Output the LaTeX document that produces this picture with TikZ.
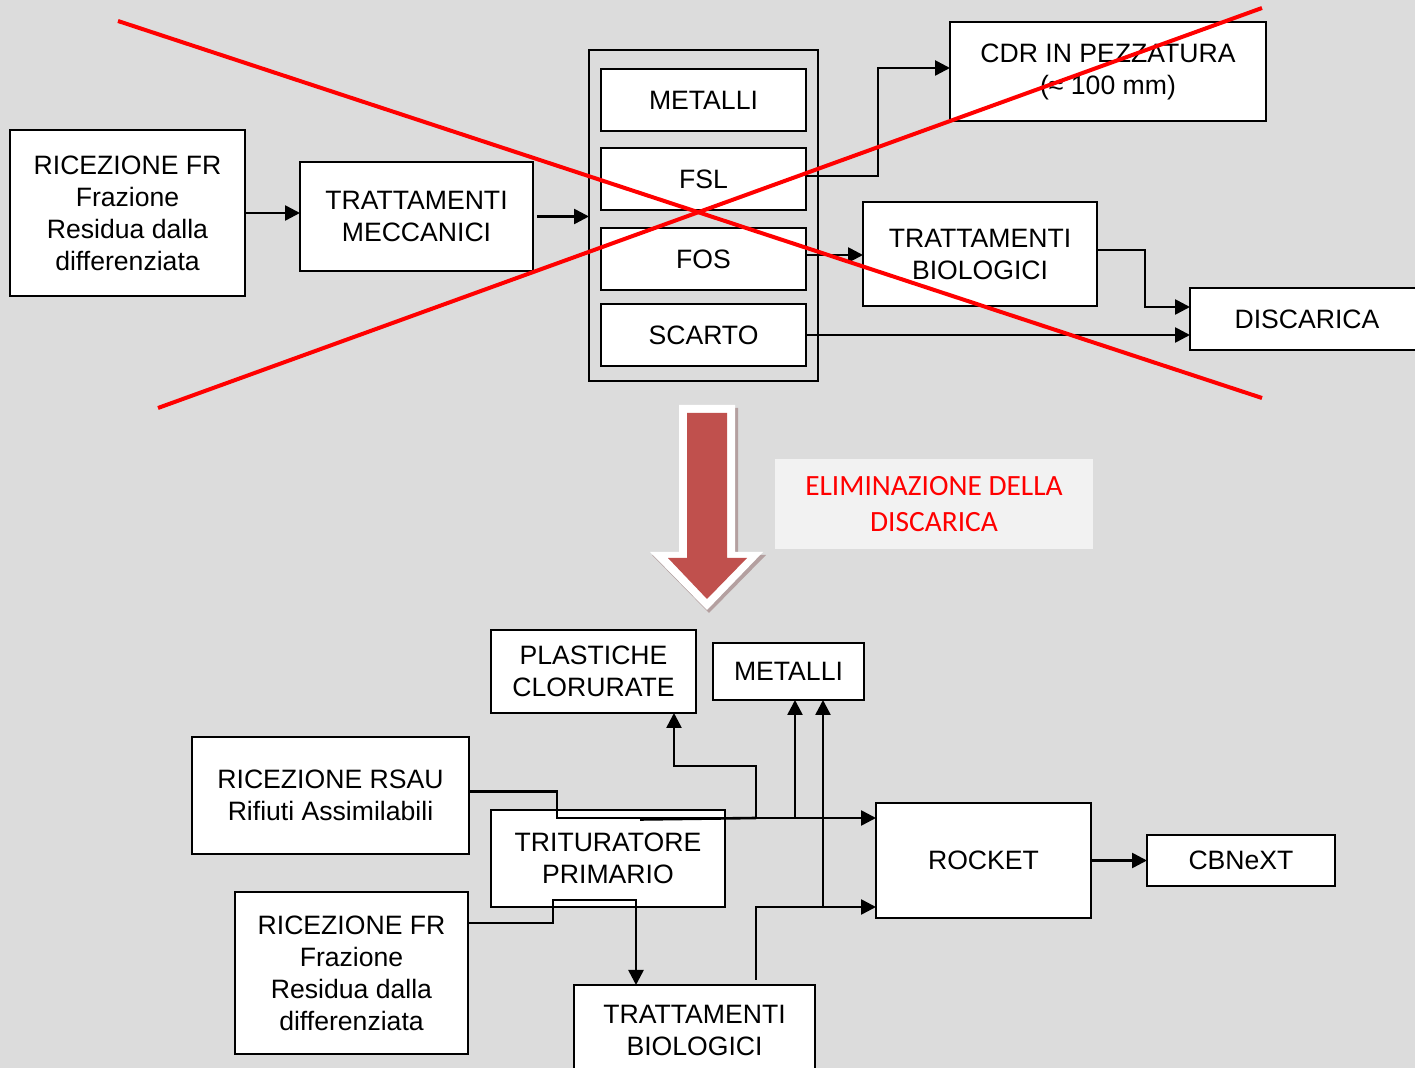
\documentclass[tikz,border=0pt]{standalone}
\usepackage{fontspec}
\setmainfont{Liberation Sans}
\newfontfamily\calibfont{Carlito}
\usetikzlibrary{arrows.meta}
\definecolor{bg}{RGB}{220,220,220}
\definecolor{arrred}{RGB}{192,80,77}
\definecolor{elimbg}{RGB}{242,242,242}
\definecolor{shadowc}{RGB}{180,160,160}
\begin{document}
\begin{tikzpicture}[x=0.5pt,y=-0.5pt,
  box/.style={draw=black,fill=white,line width=1pt,inner sep=0pt,outer sep=0pt,align=center,font=\fontsize{13.3}{16}\selectfont},
  conn/.style={line width=1.3pt,-{Triangle[length=7.5pt,width=7.5pt]}},
  plainline/.style={line width=1.3pt},
  cross/.style={red,line width=2pt}]
\fill[bg] (0,0) rectangle (1415,1068);
\clip (0,0) rectangle (1415,1068);

% ---------- top diagram ----------
\node[box,minimum width=117.5pt,minimum height=83pt] (ric1) at (127.5,213) {RICEZIONE FR\\Frazione\\Residua dalla\\differenziata};
\node[box,minimum width=116.5pt,minimum height=54.5pt] (tm) at (416.5,216.5) {TRATTAMENTI\\MECCANICI};
\node[box,fill=none,minimum width=114.5pt,minimum height=165.5pt] (cont) at (703.5,215.5) {};
\node[box,minimum width=102.5pt,minimum height=31pt] (met1) at (703.5,100) {METALLI};
\node[box,minimum width=102.5pt,minimum height=31pt] (fsl) at (703.5,179) {FSL};
\node[box,minimum width=102.5pt,minimum height=31pt] (fos) at (703.5,259) {FOS};
\node[box,minimum width=102.5pt,minimum height=31pt] (scarto) at (703.5,335) {SCARTO};
\node[box,minimum width=158pt,minimum height=49.5pt] (cdr) at (1108,71.5) {CDR IN PEZZATURA\\(≈ 100 mm)};
\node[box,minimum width=117pt,minimum height=52pt] (tb1) at (980,254) {TRATTAMENTI\\BIOLOGICI};
\node[box,minimum width=117pt,minimum height=31pt] (disc) at (1307,319) {DISCARICA};

\draw[conn] (ric1.east) -- (ric1.east -| tm.west);
\draw[conn] ([xshift=2pt]tm.east) -- (tm.east -| cont.west);
\draw[conn] ([yshift=1.5pt]fsl.east) -- ++(72,0) |- ([yshift=1.75pt]cdr.west);
\draw[conn] ([yshift=2pt]fos.east) -- ([yshift=2pt]fos.east -| tb1.west);
\draw[conn] ([yshift=2pt]tb1.east) -- ++(48,0) |- ([yshift=6pt]disc.west);
\draw[conn] (scarto.east) -- (scarto.east -| disc.west);

\draw[cross] (118,21) -- (1262,398);
\draw[cross] (158,408) -- (1262,8);

% ---------- big arrow ----------
\fill[shadowc] (681,408) -- (738,408) -- (738,555) -- (766,555) -- (709,613) -- (652,555) -- (681,555) -- cycle;
\fill[white] (679,405) -- (735,405) -- (735,552) -- (763,552) -- (707,610) -- (650,552) -- (679,552) -- cycle;
\fill[arrred] (687,413) -- (727,413) -- (727,558) -- (747,558) -- (707,599) -- (668,558) -- (687,558) -- cycle;

\node[fill=elimbg,minimum width=159pt,minimum height=45pt,inner sep=0pt,text=red,align=center,font=\calibfont\fontsize{14.7}{18}\selectfont] (elim) at (934,504) {ELIMINAZIONE DELLA\\DISCARICA};

% ---------- bottom diagram ----------
\node[box,minimum width=102.5pt,minimum height=41.5pt] (plast) at (593.5,671.5) {PLASTICHE\\CLORURATE};
\node[box,minimum width=75.5pt,minimum height=28.5pt] (met2) at (788.5,671.5) {METALLI};
\node[box,minimum width=138.5pt,minimum height=58.5pt] (rsau) at (330.5,795.5) {RICEZIONE RSAU\\Rifiuti Assimilabili};
\node[box,minimum width=117pt,minimum height=48.5pt] (trit) at (608,858.5) {TRITURATORE\\PRIMARIO};
\node[box,minimum width=116.5pt,minimum height=81pt] (fr2) at (351.5,973) {RICEZIONE FR\\Frazione\\Residua dalla\\differenziata};
\node[box,minimum width=120.5pt,minimum height=45pt] (tb2) at (694.5,1030) {TRATTAMENTI\\BIOLOGICI};
\node[box,minimum width=107.5pt,minimum height=57.5pt] (rocket) at (983.5,860.5) {ROCKET};
\node[box,minimum width=94pt,minimum height=25.5pt] (cbn) at (1241,860.5) {CBNeXT};

\coordinate (j) at (557,818);
\coordinate (jt) at (640,819.5);
\coordinate (bp) at (756,818);
\coordinate (bm) at (795,818);
\coordinate (bv) at (823,907);
\coordinate (bt) at (756,980);

\draw[conn] ([yshift=2pt]rsau.east) -| (j) -- ([yshift=21.25pt]rocket.west);
\draw[plainline] (jt) -- (bp);
\draw[conn] (bp) -- ++(0,-52) -| ([xshift=40.25pt]plast.south);
\draw[conn] (bm) -- ([xshift=3.25pt]met2.south);
\draw[conn] (bv) -- ([xshift=17.25pt]met2.south);
\draw[conn] (bt) -- ++(0,-73) -- ([yshift=-23.25pt]rocket.west);
\draw[conn] ([yshift=25pt]fr2.east) -| (553,900) -| ([xshift=-29.25pt]tb2.north);
\draw[conn] (rocket.east) -- (cbn.west);
\end{tikzpicture}
\end{document}
